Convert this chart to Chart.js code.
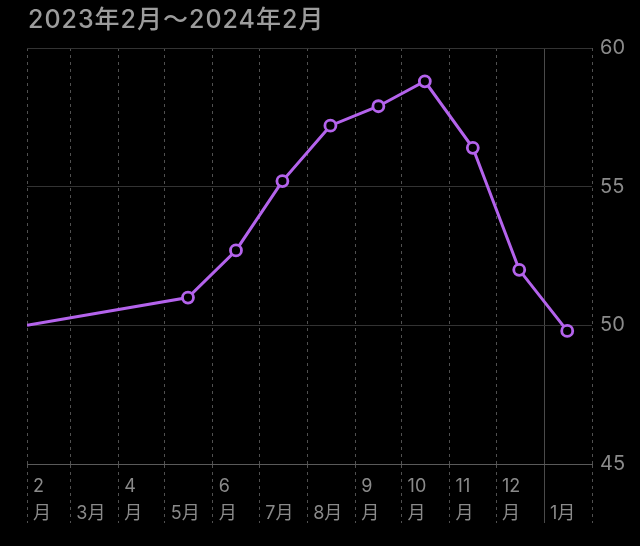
<!DOCTYPE html>
<html>
<head>
<meta charset="utf-8">
<script src="https://cdn.jsdelivr.net/npm/chart.js@4.4.0/dist/chart.umd.min.js"></script>
<style>
  html, body { margin: 0; padding: 0; background: #000; }
  #wrap { position: relative; width: 640px; height: 546px; }
  #title {
    position: absolute; left: 28px; top: 0; height: 38px; line-height: 38px;
    font-family: Inter, 'Noto Sans CJK JP', sans-serif; font-size: 25px; font-weight: 500;
    letter-spacing: 1px; color: #9c9c9c; white-space: nowrap;
  }
  canvas { position: absolute; left: 0; top: 0; }
</style>
</head>
<body>
<div id="wrap">
  <canvas id="weightChart" width="640" height="546"></canvas>
  <div id="title"></div>
</div>
<script>
// data
const titleText = '2023年2月〜2024年2月'
const monthStarts = ['2023-02-01', '2023-03-01', '2023-04-01', '2023-05-01', '2023-06-01', '2023-07-01',
    '2023-08-01', '2023-09-01', '2023-10-01', '2023-11-01', '2023-12-01', '2024-01-01', '2024-02-01']
const monthLabels = [['2', '月'], ['', '3月'], ['4', '月'], ['', '5月'], ['6', '月'], ['', '7月'],
    ['', '8月'], ['9', '月'], ['10', '月'], ['11', '月'], ['12', '月'], ['', '1月'], '']
const pointDates = ['2023-02-01', '2023-05-16', '2023-06-16', '2023-07-16', '2023-08-16', '2023-09-16',
    '2023-10-16', '2023-11-16', '2023-12-16', '2024-01-16']
const weights = [50.0, 51.0, 52.7, 55.2, 57.2, 57.9, 58.8, 56.4, 52.0, 49.8]
const yTicks = [45, 50, 55, 60]

const FONT = "Inter, 'Noto Sans CJK JP', sans-serif"
const PURPLE = '#b463ec'

document.getElementById('title').textContent = titleText

// days since the first month start, so the x axis is a plain linear scale
function dayOf(d){
    return Math.round((Date.parse(d) - Date.parse(monthStarts[0])) / 86400000)
}
const tickDays = monthStarts.map(dayOf)
const yearBreak = dayOf('2024-01-01')

const isSolid = ctx => ctx.tick && ctx.tick.value === yearBreak
const vDash = ctx => (!ctx.tick || isSolid(ctx)) ? [] : [3, 4]

const ctx = document.getElementById('weightChart')
const weightChart = new Chart(ctx, {
    type: 'line',
    data: {
        datasets: [{
            data: pointDates.map((d, i) => ({x: dayOf(d), y: weights[i]})),
            borderColor: PURPLE,
            borderWidth: 3,
            pointRadius: c => c.dataIndex === 0 ? 0 : 5.5,
            pointBorderWidth: 2.8,
            pointBackgroundColor: '#000',
            pointBorderColor: PURPLE,
            tension: 0
        }]
    },
    options: {
        responsive: false,
        animation: false,
        layout: { padding: { left: 27, right: 0, top: 48, bottom: 0 } },
        plugins: {
            legend: { display: false },
            tooltip: { enabled: false }
        },
        scales: {
            x: {
                type: 'linear',
                min: tickDays[0],
                max: tickDays[tickDays.length - 1],
                afterBuildTicks: s => { s.ticks = tickDays.map(v => ({value: v})) },
                afterFit: s => { s.height = 82 },
                grid: {
                    color: c => isSolid(c) ? '#4a4a4a' : '#505050',
                    lineWidth: 1,
                    drawTicks: true,
                    tickLength: 59,
                    tickColor: c => isSolid(c) ? '#4a4a4a' : '#505050',
                    tickBorderDash: vDash
                },
                border: { display: true, color: '#5a5a5a', width: 1, dash: vDash },
                ticks: {
                    autoSkip: false,
                    maxRotation: 0,
                    align: 'start',
                    labelOffset: 6,
                    padding: -49,
                    color: '#8a8a8a',
                    font: { family: FONT, size: 18, lineHeight: 1.45 },
                    callback: (v, i) => monthLabels[i]
                }
            },
            y: {
                position: 'right',
                min: 45,
                max: 60,
                afterBuildTicks: s => { s.ticks = yTicks.map(v => ({value: v})) },
                afterFit: s => { s.width = 48 },
                grid: {
                    color: c => c.tick && c.tick.value === 45 ? '#5a5a5a' : '#333333',
                    lineWidth: 1,
                    drawTicks: false
                },
                border: { display: false },
                ticks: {
                    padding: 8,
                    color: '#8a8a8a',
                    font: { family: FONT, size: 20 }
                }
            }
        }
    }
})
</script>
</body>
</html>
